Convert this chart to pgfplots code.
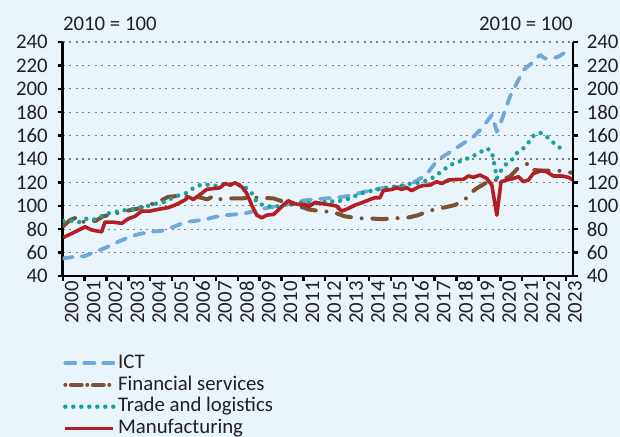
\documentclass[border=0pt]{standalone}
\usepackage{pgfplots}
\pgfplotsset{compat=1.18}
\usepackage{fontspec}
\setmainfont{Carlito}
\definecolor{bg}{HTML}{EAF4FB}
\definecolor{ict}{HTML}{6FA9DC}
\definecolor{fin}{HTML}{7B5034}
\definecolor{trade}{HTML}{17A398}
\definecolor{manu}{HTML}{B21F24}
\definecolor{txt}{HTML}{231F20}
\tikzset{
 ictstyle/.style={ict, line width=1.9pt, line cap=round, line join=round, dash pattern=on 5pt off 4.5pt},
 finstyle/.style={fin, line width=2pt, line cap=round, line join=round, dash pattern=on 7.2pt off 5.4pt on 0pt off 5.4pt},
 finleg/.style={fin, line width=2pt, line cap=round, dash pattern=on 0pt off 2.8pt on 5.4pt off 2.8pt},
 tradestyle/.style={trade, line width=2.2pt, line cap=round, dash pattern=on 0pt off 4pt},
 manustyle/.style={manu, line width=1.8pt, line join=round},
}
\begin{document}
\begin{tikzpicture}[font=\fontsize{10.4}{12}\selectfont]
\path[use as bounding box] (-31.35pt,-80.5pt) rectangle (278.65pt,138pt);
\fill[bg] (-31.35pt,-80.5pt) rectangle (278.65pt,138pt);
\clip (-31.35pt,-80.5pt) rectangle (278.65pt,138pt);
\begin{axis}[
 name=main,
 scale only axis, width=255.15pt, height=117pt,
 xmin=2000, xmax=2023.32, ymin=40, ymax=240,
 ytick={40,60,...,240}, xtick={2000,...,2023},
 axis x line*=bottom, axis y line*=left,
 axis line style={-, line width=1.3pt, black},
 tick align=outside, major tick length=2.5pt,
 major tick style={line width=1.2pt, black},
 ymajorgrids, major grid style={gray, line width=0.6pt, dash pattern=on 1pt off 2.2pt},
 /pgf/number format/assume math mode=true,
 /pgf/number format/1000 sep={},
 tick label style={text=txt, font=\fontsize{10.4}{12}\selectfont},
 yticklabel style={inner sep=0pt, anchor=east, xshift=-4.8pt},
 xticklabel style={rotate=90, anchor=east, inner sep=0pt, yshift=-4.5pt},
 legend style={at={(0,0)}, anchor=north west, yshift=-38pt, draw=none, fill=none, inner sep=0pt,
   row sep=0.2pt, nodes={inner sep=0.5pt, text height=7.5pt, text depth=2.2pt, anchor=west},
   font=\fontsize{10.4}{12}\selectfont, text=txt,
   /tikz/every odd column/.append style={column sep=0.8pt}},
 legend cell align=left,
 legend image code/.code={\draw[#1] (0pt,0pt) -- (24pt,0pt);},
]
\addlegendimage{ictstyle}\addlegendentry{ICT}
\addlegendimage{finleg}\addlegendentry{Financial services}
\addlegendimage{tradestyle}\addlegendentry{Trade and logistics}
\addlegendimage{manustyle}\addlegendentry{Manufacturing}

\addplot[ictstyle, forget plot] coordinates {
(2000.0,55) (2000.5,56.3) (2001.0,57) (2001.4,60) (2002.0,64.5) (2002.5,69) (2003.0,72.9) (2003.45,75.7) (2004.0,77.7) (2004.5,78.6) (2004.85,80.6) (2005.2,83) (2005.6,86.3) (2006.0,86.9) (2006.5,88.3) (2007.0,90.6) (2007.5,92) (2008.0,92.9) (2008.45,94) (2009.0,96.9) (2009.45,98.6) (2010.0,100) (2010.5,102) (2011.0,104.5) (2011.5,105.5) (2012.0,106.3) (2012.5,106.9) (2013.0,108.3) (2013.5,110.6) (2014.0,112.9) (2014.5,114.9) (2015.0,115.8) (2015.5,116.3) (2016.0,119.5) (2016.4,124) (2016.7,128.5) (2017.0,136) (2017.26,140.6) (2017.85,147.7) (2018.31,153.4) (2018.77,159.1) (2019.15,166.2) (2019.61,177.6) (2019.84,163.4) (2020.06,173.3) (2020.44,193.3) (2020.75,204.7) (2021.05,216) (2021.43,221.8) (2021.81,228.9) (2022.04,226) (2022.35,226) (2022.65,227.4) (2023.0,231.7)
};
\addplot[finstyle, forget plot] coordinates {
(2000.03,82.6) (2000.33,87.7) (2000.71,90.6) (2000.94,86.3) (2001.25,88) (2001.48,86.9) (2001.86,91.1) (2002.31,92.9) (2002.7,94.9) (2003.08,96.3) (2003.46,97.7) (2003.76,99.7) (2004.14,102) (2004.52,104.9) (2004.83,107.7) (2005.21,108.3) (2005.59,107.7) (2006.0,108) (2006.3,107) (2006.6,105.5) (2006.81,107.5) (2006.96,105) (2007.42,106.3) (2007.95,106.3) (2008.4,106.5) (2008.79,107) (2009.2,106.8) (2009.63,106.3) (2010.0,104) (2010.39,101.4) (2010.69,99.5) (2011.0,98.5) (2011.23,96.9) (2011.68,95.7) (2012.14,94.9) (2012.45,94) (2012.87,91.1) (2013.36,89.7) (2013.82,89.1) (2014.12,89.1) (2014.58,88.6) (2015.04,89.1) (2015.49,89.7) (2015.8,90) (2016.25,92) (2016.71,95.6) (2017.47,98.7) (2017.93,100.7) (2018.39,105.5) (2018.62,110.7) (2018.92,114.9) (2019.3,119.2) (2019.76,122) (2020.06,122.6) (2020.44,124.9) (2020.75,131.2) (2021.28,136.3) (2021.51,130.6) (2022.0,130) (2022.65,130) (2023.26,128.3)
};
\addplot[tradestyle, forget plot] coordinates {
(2000.03,86.9) (2000.48,87.1) (2000.79,86) (2001.1,89.1) (2001.48,88.3) (2001.78,91.1) (2002.08,93.5) (2002.47,95) (2002.85,96.3) (2003.15,96.9) (2003.53,98.6) (2003.91,100) (2004.3,102) (2004.68,103.4) (2004.98,106.5) (2005.28,108.8) (2005.67,111) (2005.97,115.1) (2006.32,118) (2006.66,118) (2007.04,117) (2007.42,119.1) (2007.8,117.7) (2008.1,118.2) (2008.48,114) (2008.71,109.1) (2008.87,102.6) (2009.17,100.6) (2009.55,99.1) (2009.93,99.7) (2010.31,102.6) (2010.7,102.5) (2011.0,103) (2011.38,102) (2011.76,102) (2012.14,104.3) (2012.45,103.4) (2012.83,104.9) (2013.21,106.9) (2013.51,109.7) (2013.89,112) (2014.27,113.4) (2014.65,114.9) (2015.04,116.3) (2015.34,116.3) (2015.72,118.6) (2016.1,119.1) (2016.48,120.6) (2016.79,122.6) (2017.09,126.3) (2017.4,130.6) (2017.7,134.9) (2018.0,136.9) (2018.39,139.7) (2018.77,142.6) (2019.07,145.7) (2019.38,149.1) (2019.61,146.3) (2019.76,132) (2019.84,123.5) (2019.99,129.1) (2020.22,134.9) (2020.52,139.1) (2020.75,144.9) (2021.05,149.1) (2021.28,154) (2021.51,159.7) (2021.81,162.5) (2022.12,159.1) (2022.42,154) (2022.68,150) (2023.03,147.1)
};
\addplot[manustyle, forget plot] coordinates {
(2000.03,72.9) (2000.56,77.7) (2001.02,82) (2001.32,79.4) (2001.78,77.7) (2001.93,86) (2002.31,86) (2002.7,85) (2003.0,89) (2003.3,91) (2003.61,95.4) (2003.99,95.5) (2004.37,97) (2004.83,98.5) (2005.13,100.6) (2005.59,105) (2005.74,107.7) (2005.97,105.4) (2006.28,109.7) (2006.58,114) (2006.96,114.9) (2007.19,115.4) (2007.42,119.1) (2007.65,117.7) (2007.87,119.7) (2008.18,116.3) (2008.41,110.6) (2008.64,100.6) (2008.87,92) (2009.1,89.7) (2009.32,92) (2009.63,92.6) (2009.85,96.3) (2010.08,100.6) (2010.31,104.3) (2010.54,102) (2010.85,101) (2011.07,101.4) (2011.23,99) (2011.53,103) (2011.99,101.4) (2012.29,100.6) (2012.52,99.7) (2012.75,95.4) (2013.05,97.7) (2013.36,100.6) (2013.67,102.6) (2014.04,105.4) (2014.27,106.9) (2014.5,106.9) (2014.65,113) (2015.04,114) (2015.27,115.4) (2015.49,114) (2015.72,115.4) (2015.95,113) (2016.25,116) (2016.48,117.4) (2016.79,117.7) (2017.09,120.6) (2017.32,119) (2017.62,122) (2018.08,122.6) (2018.31,122.6) (2018.54,125.5) (2018.77,124.3) (2019.07,126.3) (2019.38,123.4) (2019.61,117.7) (2019.84,92) (2020.03,120.6) (2020.29,122) (2020.6,123.4) (2020.83,124.9) (2021.05,120.6) (2021.28,122) (2021.51,127.7) (2021.89,130) (2022.12,129) (2022.42,125.5) (2022.8,125.5) (2023.11,124.3) (2023.32,122)
};
\end{axis}
\begin{axis}[
 scale only axis, width=255.15pt, height=117pt,
 xmin=2000, xmax=2023.32, ymin=40, ymax=240,
 ytick={40,60,...,240},
 axis x line=none, axis y line*=right,
 axis line style={-, line width=1.3pt, black},
 tick align=outside, major tick length=2.5pt,
 major tick style={line width=1.2pt, black},
 /pgf/number format/assume math mode=true,
 tick label style={text=txt, font=\fontsize{10.4}{12}\selectfont},
 yticklabel style={inner sep=0pt, anchor=west, xshift=4.2pt},
]
\end{axis}
\node[anchor=base west, inner sep=0pt, text=txt] at ([yshift=5.6pt]main.north west) {2010 = 100};
\node[anchor=base east, inner sep=0pt, text=txt] at ([yshift=5.6pt]main.north east) {2010 = 100};
\end{tikzpicture}
\end{document}
